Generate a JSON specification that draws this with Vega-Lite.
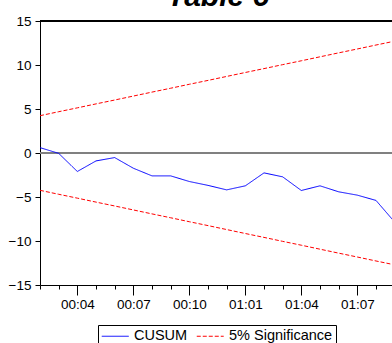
{
  "$schema": "https://vega.github.io/schema/vega-lite/v6.json",
  "width": 352,
  "height": 264,
  "autosize": {"type": "none"},
  "padding": {"left": 40, "top": 21, "right": 0, "bottom": 58},
  "background": "white",
  "config": {"view": {"stroke": null}, "font": "Liberation Sans"},
  "data": {"values": [
    {"obs": 0, "period": "2000:02", "series": "CUSUM", "band": "cusum", "value": 0.61},
    {"obs": 1, "period": "2000:03", "series": "CUSUM", "band": "cusum", "value": -0.04},
    {"obs": 2, "period": "2000:04", "series": "CUSUM", "band": "cusum", "value": -2.1},
    {"obs": 3, "period": "2000:05", "series": "CUSUM", "band": "cusum", "value": -0.9},
    {"obs": 4, "period": "2000:06", "series": "CUSUM", "band": "cusum", "value": -0.52},
    {"obs": 5, "period": "2000:07", "series": "CUSUM", "band": "cusum", "value": -1.73},
    {"obs": 6, "period": "2000:08", "series": "CUSUM", "band": "cusum", "value": -2.6},
    {"obs": 7, "period": "2000:09", "series": "CUSUM", "band": "cusum", "value": -2.6},
    {"obs": 8, "period": "2000:10", "series": "CUSUM", "band": "cusum", "value": -3.24},
    {"obs": 9, "period": "2000:11", "series": "CUSUM", "band": "cusum", "value": -3.68},
    {"obs": 10, "period": "2000:12", "series": "CUSUM", "band": "cusum", "value": -4.19},
    {"obs": 11, "period": "2001:01", "series": "CUSUM", "band": "cusum", "value": -3.73},
    {"obs": 12, "period": "2001:02", "series": "CUSUM", "band": "cusum", "value": -2.26},
    {"obs": 13, "period": "2001:03", "series": "CUSUM", "band": "cusum", "value": -2.71},
    {"obs": 14, "period": "2001:04", "series": "CUSUM", "band": "cusum", "value": -4.26},
    {"obs": 15, "period": "2001:05", "series": "CUSUM", "band": "cusum", "value": -3.73},
    {"obs": 16, "period": "2001:06", "series": "CUSUM", "band": "cusum", "value": -4.41},
    {"obs": 17, "period": "2001:07", "series": "CUSUM", "band": "cusum", "value": -4.79},
    {"obs": 18, "period": "2001:08", "series": "CUSUM", "band": "cusum", "value": -5.39},
    {"obs": 19, "period": "2001:09", "series": "CUSUM", "band": "cusum", "value": -7.85},
    {"obs": 0, "period": "2000:02", "series": "5% Significance", "band": "upper", "value": 4.24},
    {"obs": 1, "period": "2000:03", "series": "5% Significance", "band": "upper", "value": 4.69},
    {"obs": 2, "period": "2000:04", "series": "5% Significance", "band": "upper", "value": 5.13},
    {"obs": 3, "period": "2000:05", "series": "5% Significance", "band": "upper", "value": 5.58},
    {"obs": 4, "period": "2000:06", "series": "5% Significance", "band": "upper", "value": 6.02},
    {"obs": 5, "period": "2000:07", "series": "5% Significance", "band": "upper", "value": 6.47},
    {"obs": 6, "period": "2000:08", "series": "5% Significance", "band": "upper", "value": 6.92},
    {"obs": 7, "period": "2000:09", "series": "5% Significance", "band": "upper", "value": 7.36},
    {"obs": 8, "period": "2000:10", "series": "5% Significance", "band": "upper", "value": 7.81},
    {"obs": 9, "period": "2000:11", "series": "5% Significance", "band": "upper", "value": 8.25},
    {"obs": 10, "period": "2000:12", "series": "5% Significance", "band": "upper", "value": 8.7},
    {"obs": 11, "period": "2001:01", "series": "5% Significance", "band": "upper", "value": 9.15},
    {"obs": 12, "period": "2001:02", "series": "5% Significance", "band": "upper", "value": 9.59},
    {"obs": 13, "period": "2001:03", "series": "5% Significance", "band": "upper", "value": 10.04},
    {"obs": 14, "period": "2001:04", "series": "5% Significance", "band": "upper", "value": 10.48},
    {"obs": 15, "period": "2001:05", "series": "5% Significance", "band": "upper", "value": 10.93},
    {"obs": 16, "period": "2001:06", "series": "5% Significance", "band": "upper", "value": 11.38},
    {"obs": 17, "period": "2001:07", "series": "5% Significance", "band": "upper", "value": 11.82},
    {"obs": 18, "period": "2001:08", "series": "5% Significance", "band": "upper", "value": 12.27},
    {"obs": 19, "period": "2001:09", "series": "5% Significance", "band": "upper", "value": 12.71},
    {"obs": 0, "period": "2000:02", "series": "5% Significance", "band": "lower", "value": -4.24},
    {"obs": 1, "period": "2000:03", "series": "5% Significance", "band": "lower", "value": -4.69},
    {"obs": 2, "period": "2000:04", "series": "5% Significance", "band": "lower", "value": -5.13},
    {"obs": 3, "period": "2000:05", "series": "5% Significance", "band": "lower", "value": -5.58},
    {"obs": 4, "period": "2000:06", "series": "5% Significance", "band": "lower", "value": -6.02},
    {"obs": 5, "period": "2000:07", "series": "5% Significance", "band": "lower", "value": -6.47},
    {"obs": 6, "period": "2000:08", "series": "5% Significance", "band": "lower", "value": -6.92},
    {"obs": 7, "period": "2000:09", "series": "5% Significance", "band": "lower", "value": -7.36},
    {"obs": 8, "period": "2000:10", "series": "5% Significance", "band": "lower", "value": -7.81},
    {"obs": 9, "period": "2000:11", "series": "5% Significance", "band": "lower", "value": -8.25},
    {"obs": 10, "period": "2000:12", "series": "5% Significance", "band": "lower", "value": -8.7},
    {"obs": 11, "period": "2001:01", "series": "5% Significance", "band": "lower", "value": -9.15},
    {"obs": 12, "period": "2001:02", "series": "5% Significance", "band": "lower", "value": -9.59},
    {"obs": 13, "period": "2001:03", "series": "5% Significance", "band": "lower", "value": -10.04},
    {"obs": 14, "period": "2001:04", "series": "5% Significance", "band": "lower", "value": -10.48},
    {"obs": 15, "period": "2001:05", "series": "5% Significance", "band": "lower", "value": -10.93},
    {"obs": 16, "period": "2001:06", "series": "5% Significance", "band": "lower", "value": -11.38},
    {"obs": 17, "period": "2001:07", "series": "5% Significance", "band": "lower", "value": -11.82},
    {"obs": 18, "period": "2001:08", "series": "5% Significance", "band": "lower", "value": -12.27},
    {"obs": 19, "period": "2001:09", "series": "5% Significance", "band": "lower", "value": -12.71}
  ]},
  "layer": [
    {
      "mark": {"type": "rule", "color": "#808080", "strokeWidth": 2},
      "encoding": {"y": {"datum": 0, "type": "quantitative"}}
    },
    {
      "mark": {"type": "rule", "color": "black", "strokeWidth": 1},
      "encoding": {"y": {"datum": 15, "type": "quantitative"}}
    },
    {
      "data": {"values": [{"label": "Table 6", "position": 9.54, "top": 15}]},
      "mark": {"type": "text", "font": "Liberation Sans", "fontSize": 30, "fontWeight": "bold", "fontStyle": "italic", "color": "black", "align": "center", "baseline": "alphabetic", "dy": -15.5, "clip": false},
      "encoding": {
        "text": {"field": "label", "type": "nominal"},
        "x": {
          "field": "position", "type": "quantitative",
          "scale": {"domain": [0, 18.857], "nice": false, "zero": false},
          "axis": {
            "values": [0, 1, 2, 3, 4, 5, 6, 7, 8, 9, 10, 11, 12, 13, 14, 15, 16, 17, 18],
            "title": null, "grid": false,
            "domainColor": "black", "domainWidth": 1,
            "tickColor": "black", "tickWidth": 1,
            "tickSize": {"condition": {"test": "datum.value % 3 == 2", "value": 10}, "value": 4},
            "labelExpr": "datum.value % 3 == 2 ? ((floor((datum.value+1)/12) < 10 ? '0' : '') + floor((datum.value+1)/12) + ':' + (((datum.value+1)%12+1) < 10 ? '0' : '') + ((datum.value+1)%12+1)) : ''",
            "labelFont": "Liberation Sans", "labelFontSize": 13.5, "labelColor": "black",
            "labelPadding": 2, "labelFlush": false, "labelOverlap": false, "labelBound": false
          }
        },
        "y": {
          "field": "top", "type": "quantitative",
          "scale": {"domain": [-15, 15], "nice": false, "zero": false},
          "axis": {
            "values": [-15, -10, -5, 0, 5, 10, 15],
            "title": null, "grid": false,
            "domainColor": "black", "domainWidth": 1,
            "tickColor": "black", "tickWidth": 1, "tickSize": 5,
            "labelFont": "Liberation Sans", "labelFontSize": 13.5, "labelColor": "black",
            "labelPadding": 4, "labelFlush": false, "labelOverlap": false, "labelBound": false
          }
        }
      }
    },
    {
      "mark": {"type": "line", "clip": true, "strokeWidth": 1},
      "encoding": {
        "x": {
          "field": "obs", "type": "quantitative",
          "scale": {"domain": [0, 18.857], "nice": false, "zero": false},
          "axis": {
            "values": [0, 1, 2, 3, 4, 5, 6, 7, 8, 9, 10, 11, 12, 13, 14, 15, 16, 17, 18],
            "title": null, "grid": false,
            "domainColor": "black", "domainWidth": 1,
            "tickColor": "black", "tickWidth": 1,
            "tickSize": {"condition": {"test": "datum.value % 3 == 2", "value": 10}, "value": 4},
            "labelExpr": "datum.value % 3 == 2 ? ((floor((datum.value+1)/12) < 10 ? '0' : '') + floor((datum.value+1)/12) + ':' + (((datum.value+1)%12+1) < 10 ? '0' : '') + ((datum.value+1)%12+1)) : ''",
            "labelFont": "Liberation Sans", "labelFontSize": 13.5, "labelColor": "black",
            "labelPadding": 2, "labelFlush": false, "labelOverlap": false, "labelBound": false
          }
        },
        "y": {
          "field": "value", "type": "quantitative",
          "scale": {"domain": [-15, 15], "nice": false, "zero": false},
          "axis": {
            "values": [-15, -10, -5, 0, 5, 10, 15],
            "title": null, "grid": false,
            "domainColor": "black", "domainWidth": 1,
            "tickColor": "black", "tickWidth": 1, "tickSize": 5,
            "labelFont": "Liberation Sans", "labelFontSize": 13.5, "labelColor": "black",
            "labelPadding": 4, "labelFlush": false, "labelOverlap": false, "labelBound": false
          }
        },
        "color": {
          "field": "series", "type": "nominal",
          "scale": {"domain": ["CUSUM", "5% Significance"], "range": ["#0000ff", "#ff0000"]},
          "legend": {
            "orient": "none", "legendX": 58, "legendY": 304, "direction": "horizontal",
            "title": null, "strokeColor": "black", "fillColor": "white", "padding": 3,
            "symbolType": "M-1,0H2.72", "symbolSize": 210, "symbolStrokeWidth": 1,
            "labelFont": "Liberation Sans", "labelFontSize": 14.5, "labelColor": "black",
            "labelOffset": 17, "columnPadding": 6, "labelLimit": 300
          }
        },
        "strokeDash": {
          "field": "series", "type": "nominal",
          "scale": {"domain": ["CUSUM", "5% Significance"], "range": [[1, 0], [4, 2]]},
          "legend": {
            "orient": "none", "legendX": 58, "legendY": 304, "direction": "horizontal",
            "title": null, "strokeColor": "black", "fillColor": "white", "padding": 3,
            "symbolType": "M-1,0H2.72", "symbolSize": 210, "symbolStrokeWidth": 1,
            "labelFont": "Liberation Sans", "labelFontSize": 14.5, "labelColor": "black",
            "labelOffset": 17, "columnPadding": 6, "labelLimit": 300
          }
        },
        "detail": {"field": "band", "type": "nominal"},
        "order": {"field": "obs", "type": "quantitative"}
      }
    }
  ]
}
